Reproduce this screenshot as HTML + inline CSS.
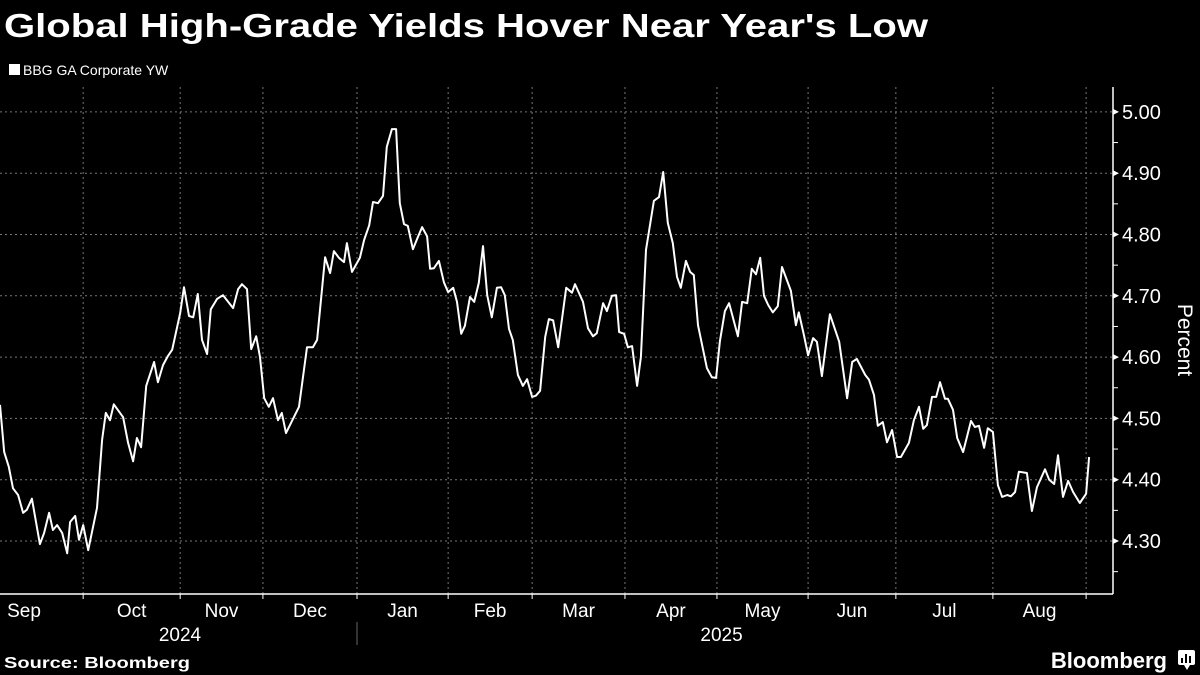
<!DOCTYPE html>
<html><head><meta charset="utf-8"><style>
html,body{margin:0;padding:0;background:#000;}
svg{display:block;font-family:"Liberation Sans","DejaVu Sans",sans-serif;}
</style></head><body>
<svg id="chart" width="1200" height="675" viewBox="0 0 1200 675" xmlns="http://www.w3.org/2000/svg">
<rect width="1200" height="675" fill="#000"/>
<text x="4" y="37" fill="#fff" font-size="33" font-weight="bold" textLength="924" lengthAdjust="spacingAndGlyphs">Global High-Grade Yields Hover Near Year's Low</text>
<rect x="9" y="64" width="11" height="11" fill="#fff"/>
<text x="23" y="75" fill="#fff" font-size="14">BBG GA Corporate YW</text>
<g id="grid"></g>
<g id="axes"></g>
<path id="line" fill="none" stroke="#fff" stroke-width="2" stroke-linejoin="round"/>
<text transform="translate(1178,340) rotate(90)" fill="#fff" font-size="21" text-anchor="middle">Percent</text>
<text x="4" y="668" fill="#fff" font-size="16" font-weight="bold" textLength="186" lengthAdjust="spacingAndGlyphs">Source: Bloomberg</text>
<text x="1167" y="668" fill="#fff" font-size="22" font-weight="bold" text-anchor="end">Bloomberg</text>
<g>
<rect x="1178" y="650" width="17" height="15" rx="2" fill="#fff"/>
<path d="M1184 665 L1187 670 L1190 665Z" fill="#fff"/>
<rect x="1181" y="658" width="2" height="5" fill="#000"/><rect x="1185" y="654" width="2" height="9" fill="#000"/><rect x="1189" y="656" width="2" height="7" fill="#000"/>
</g>
</svg>
<script>
const days=[0,1,2.1,3.1,4.3,5.5,6.4,7.6,9.5,10.5,11.7,12.6,13.6,14.8,16,16.7,17.9,18.8,19.8,21,23.1,24.3,25.2,26.2,27.1,29.3,30.5,31.7,32.6,33.6,34.8,36.7,37.6,38.8,40,41,42.9,43.8,45,46,47.1,48.1,49.3,50.2,51.7,53.1,55.5,56.7,57.6,58.8,59.8,61,61.9,62.9,64,65,66.2,67.1,68.1,71.2,73.1,74.5,75.5,77.4,78.6,79.5,80.7,81.9,82.6,83.8,85.7,86.7,87.9,88.8,90,91.2,92.1,93.3,94.3,95.2,96.2,97.1,98.3,99.5,100.5,101.7,102.4,103.3,104.5,105.7,106.7,107.9,108.8,109.8,110.7,111.9,112.9,114,115,116,117.1,118.3,119.3,120.2,121.2,122.1,123.3,124.5,125.5,126.7,127.6,128.6,129.8,130.7,131.7,132.9,134.8,136.2,136.9,138.8,140,141.2,142.1,143.6,144.5,145.7,146.7,147.4,148.6,149.5,150.5,151.7,152.6,153.8,155.7,156.9,157.9,159,160.2,161.2,162.1,163.3,164.3,165.2,166.2,168.3,169.5,170.5,171.4,172.6,173.6,175.7,176.7,177.9,179,180,181,181.9,182.9,184,185.2,186.2,188.3,189.5,190.2,191.4,192.4,193.6,194.5,195.7,197.6,199.8,201.7,202.9,204,206,206.9,208.1,209,210.2,211.2,212.4,213.6,214.5,216.4,217.6,218.8,219.8,220.7,221.9,222.9,223.8,225,225.7,226.9,227.9,229.3,231.2,232.1,233.1,234.3,235.2,236.4,237.6,238.6,239.8,240.7,241.7,242.6,244.5,245.7,246.9,248.8,249.8,251,251.9,253.1,254.3,255.5,257.1,258.6,259.3];
const yields=[4.522,4.445,4.421,4.386,4.375,4.346,4.351,4.369,4.295,4.313,4.346,4.318,4.326,4.313,4.280,4.331,4.341,4.302,4.326,4.285,4.354,4.465,4.509,4.497,4.523,4.502,4.460,4.430,4.468,4.453,4.553,4.592,4.559,4.587,4.602,4.612,4.672,4.714,4.667,4.665,4.703,4.628,4.605,4.678,4.695,4.701,4.680,4.711,4.719,4.711,4.613,4.634,4.600,4.533,4.519,4.533,4.497,4.509,4.476,4.519,4.616,4.616,4.628,4.763,4.737,4.773,4.762,4.755,4.786,4.739,4.762,4.791,4.815,4.853,4.851,4.863,4.943,4.972,4.972,4.851,4.817,4.814,4.776,4.796,4.812,4.797,4.744,4.745,4.757,4.722,4.706,4.713,4.690,4.638,4.651,4.698,4.690,4.721,4.781,4.701,4.665,4.713,4.714,4.701,4.646,4.628,4.571,4.553,4.564,4.535,4.537,4.545,4.633,4.662,4.660,4.616,4.713,4.705,4.719,4.690,4.647,4.634,4.639,4.688,4.675,4.700,4.701,4.641,4.638,4.616,4.618,4.553,4.600,4.775,4.855,4.861,4.902,4.819,4.786,4.731,4.713,4.757,4.739,4.734,4.652,4.582,4.567,4.566,4.626,4.675,4.688,4.634,4.690,4.688,4.744,4.735,4.762,4.700,4.685,4.673,4.683,4.747,4.708,4.652,4.673,4.636,4.603,4.631,4.625,4.569,4.670,4.625,4.533,4.592,4.597,4.571,4.563,4.538,4.488,4.494,4.461,4.481,4.437,4.437,4.460,4.497,4.519,4.483,4.489,4.535,4.535,4.559,4.532,4.532,4.514,4.468,4.445,4.496,4.486,4.488,4.452,4.484,4.478,4.391,4.372,4.375,4.373,4.380,4.413,4.411,4.349,4.388,4.417,4.400,4.393,4.440,4.372,4.398,4.380,4.362,4.377,4.437];
const monthLabels=["Sep","Oct","Nov","Dec","Jan","Feb","Mar","Apr","May","Jun","Jul","Aug"];
const monthStarts=[-5.7,19.8,42.9,62.6,85,106.7,126.7,148.8,170.7,192.4,213.3,236.4,258.6];
const yTicks=[4.30,4.40,4.50,4.60,4.70,4.80,4.90,5.00];
const yearLabels=["2024","2025"];

const NS="http://www.w3.org/2000/svg";
const X0=0,PX=4.2,AXX=1113,AXB=594;
const xs=d=>X0+d*PX;
const ys=v=>541-(v-4.30)*613;
const grid=document.getElementById('grid'),axes=document.getElementById('axes');
function mk(tag,attrs,parent){const e=document.createElementNS(NS,tag);for(const k in attrs)e.setAttribute(k,attrs[k]);parent.appendChild(e);return e;}
yTicks.forEach(v=>{
  const g=mk('line',{x1:0,x2:AXX,y1:ys(v),y2:ys(v),stroke:'#777','stroke-width':1,'stroke-dasharray':'2,3'},grid);
  
  
  const tk=mk('path',{d:`M${AXX} ${ys(v)-3} L${AXX+6} ${ys(v)} L${AXX} ${ys(v)+3}Z`,fill:'#fff'},axes);
  
  
  const t=mk('text',{x:AXX+9,y:ys(v)+7,fill:'#fff','font-size':20},axes);
  t.textContent=v.toFixed(2);
  
  
  const mv=v+0.05;
  if(mv<5.01){const m=mk('line',{x1:AXX,x2:AXX+5,y1:ys(mv),y2:ys(mv),stroke:'#fff','stroke-width':1},axes);
  
  }
});
{const m=mk('line',{x1:AXX,x2:AXX+5,y1:ys(4.25),y2:ys(4.25),stroke:'#fff','stroke-width':1},axes);

}
monthStarts.forEach((d,i)=>{
  if(i>0){
    const g=mk('line',{x1:xs(d),x2:xs(d),y1:87,y2:AXB,stroke:'#777','stroke-width':1,'stroke-dasharray':'2,3'},grid);
    
    
    const tk=mk('line',{x1:xs(d),x2:xs(d),y1:AXB,y2:AXB+5,stroke:'#fff','stroke-width':1},axes);
    
    
  }
  if(i<monthLabels.length){
    const mid=(Math.max(xs(d),0)+xs(monthStarts[i+1]))/2;
    const t=mk('text',{x:i==0?24:mid,y:617,fill:'#fff','font-size':19,'text-anchor':'middle'},axes);
    t.textContent=monthLabels[i];
    
    
  }
});
mk('line',{x1:0,x2:AXX,y1:AXB,y2:AXB,stroke:'#fff','stroke-width':1.5},axes);
mk('line',{x1:AXX,x2:AXX,y1:87,y2:AXB,stroke:'#fff','stroke-width':1.5},axes);
const sep=mk('line',{x1:xs(monthStarts[4]),x2:xs(monthStarts[4]),y1:622,y2:645,stroke:'#666','stroke-width':1},axes);


[[0,monthStarts[4]],[monthStarts[4],monthStarts[12]]].forEach((r,i)=>{
  const t=mk('text',{x:i==0?180:(xs(r[0])+xs(r[1]))/2,y:641,fill:'#fff','font-size':19,'text-anchor':'middle'},axes);
  t.textContent=yearLabels[i];
  
  
});
document.getElementById('line').setAttribute('d',days.map((d,i)=>(i?'L':'M')+xs(d).toFixed(1)+' '+ys(yields[i]).toFixed(1)).join(' '));
</script>
</body></html>
